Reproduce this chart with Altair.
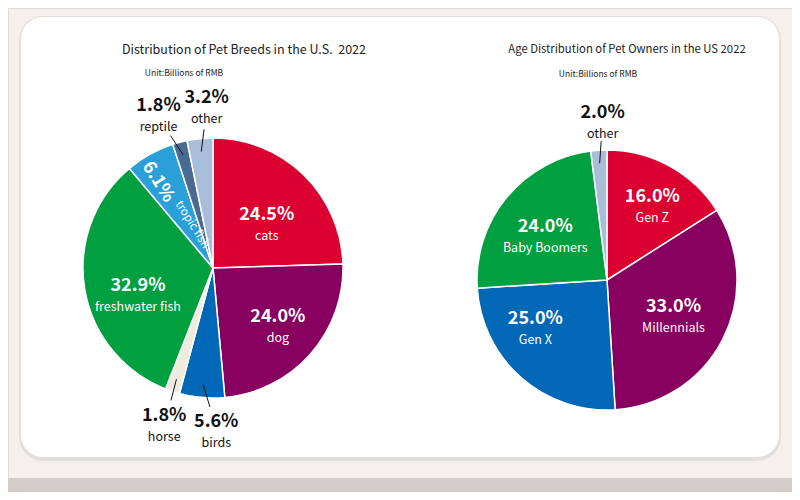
import math
import altair as alt
import pandas as pd

# ---------------- data ----------------
breed_labels = ["cats", "dog", "birds", "horse", "freshwater fish", "tropic fish", "reptile", "other"]
breed_values = [24.5, 24.0, 5.6, 1.8, 32.9, 6.1, 1.8, 3.2]
breed_colors = ["#dc0030", "#870060", "#0068b6", "#efebdf", "#00a040", "#2a9fd8", "#4a6b91", "#a8bed8"]

owner_labels = ["Gen Z", "Millennials", "Gen X", "Baby Boomers", "other"]
owner_values = [16.0, 33.0, 25.0, 24.0, 2.0]
owner_colors = ["#dc0030", "#870060", "#0068b6", "#00a040", "#a8bed8"]

left_title = "Distribution of Pet Breeds in the U.S. \u00a02022"
right_title = "Age Distribution of Pet Owners in the US 2022"
unit_text = "Unit:Billions of RMB"

# ---------------- layout ----------------
W, H = 784, 484
R = 130
LC = (205, 260)   # left pie centre (chart px)
RC = (599, 272)   # right pie centre
FONT = "Noto Sans CJK SC"

# label placement: mode, radius of label block, angle nudge (deg)
left_layout = {
    "cats": ("in", 69, 7), "dog": ("in", 88, 1), "birds": ("out", 164, -6),
    "horse": ("out", 165, -1), "freshwater fish": ("in", 80, -11),
    "tropic fish": ("rot", (102, -3.6), (48, 3)), "reptile": ("out", 161, -5),
    "other": ("out", 160, 3.5),
}
right_layout = {
    "Gen Z": ("in", 86, 3), "Millennials": ("in", 76, 2), "Gen X": ("in", 87, 14),
    "Baby Boomers": ("in", 75, -5), "other": ("out", 157, 2),
}


def polar(center, r, deg):
    a = math.radians(deg)
    return center[0] + r * math.sin(a), center[1] - r * math.cos(a)


def build(labels, values, center, layout):
    total = sum(values)
    pie = pd.DataFrame({"cat": labels, "value": values, "idx": range(len(labels))})
    texts, lines = [], []
    cum = 0.0
    for lab, v in zip(labels, values):
        mid = (cum + v / 2) / total * 360
        cum += v
        pct = f"{v:.1f}%"
        spec = layout[lab]
        mode = spec[0]
        if mode == "rot":
            (r1, n1), (r2, n2) = spec[1], spec[2]
            x1, y1 = polar(center, r1, mid + n1)
            x2, y2 = polar(center, r2, mid + n2)
            texts.append(dict(px=x1, py=y1, txt=pct, kind="pct_rot"))
            texts.append(dict(px=x2, py=y2, txt=lab, kind="name_rot"))
            continue
        r, nudge = spec[1], spec[2]
        bx, by = polar(center, r, mid + nudge)
        kind = "in" if mode == "in" else "out"
        texts.append(dict(px=bx, py=by - 10, txt=pct, kind="pct_" + kind))
        texts.append(dict(px=bx, py=by + 11, txt=lab, kind="name_" + kind))
        if mode == "out":
            sx, sy = polar(center, 117, mid)
            ex, ey = polar(center, 139, mid + 0.6 * nudge)
            lines.append(dict(x=sx, y=sy, x2=ex, y2=ey))
    return pie, pd.DataFrame(texts), pd.DataFrame(lines)


lpie, ltext, lline = build(breed_labels, breed_values, LC, left_layout)
rpie, rtext, rline = build(owner_labels, owner_values, RC, right_layout)
alltext = pd.concat([ltext, rtext], ignore_index=True)
alllines = pd.concat([lline, rline], ignore_index=True)

one = pd.DataFrame({"a": [0]})

# ---------------- background ----------------
bottom_band = alt.Chart(one).mark_rect(color="#d3cdc9").encode(
    x=alt.value(0), x2=alt.value(W), y=alt.value(470), y2=alt.value(H))
shadow = alt.Chart(one).mark_rect(color="#e4dfdb", cornerRadius=24).encode(
    x=alt.value(11), x2=alt.value(773), y=alt.value(8), y2=alt.value(453))
card = alt.Chart(one).mark_rect(color="#ffffff", cornerRadius=22).encode(
    x=alt.value(13), x2=alt.value(771), y=alt.value(9), y2=alt.value(449))


def pie_layer(df, labels, colors, center):
    return alt.Chart(df).mark_arc(radius=R, stroke="white", strokeWidth=1.5).encode(
        theta=alt.Theta("value:Q", stack=True),
        color=alt.Color("cat:N", scale=alt.Scale(domain=labels, range=colors), legend=None),
        order=alt.Order("idx:Q"),
        x=alt.value(center[0]),
        y=alt.value(center[1]),
    )


left_pie = pie_layer(lpie, breed_labels, breed_colors, LC)
right_pie = pie_layer(rpie, owner_labels, owner_colors, RC)

XY = dict(x=alt.X("px:Q", scale=None, axis=None), y=alt.Y("py:Q", scale=None, axis=None), text="txt:N")


def text_layer(kind, **mark):
    return alt.Chart(alltext).transform_filter(alt.datum.kind == kind).mark_text(
        font=FONT, baseline="middle", align="center", **mark).encode(**XY)


t_pct_in = text_layer("pct_in", fontSize=18, fontWeight="bold", color="white")
t_name_in = text_layer("name_in", fontSize=12.5, color="white")
t_pct_out = text_layer("pct_out", fontSize=18, fontWeight="bold", color="#111111")
t_name_out = text_layer("name_out", fontSize=12.5, color="#111111")
t_pct_rot = text_layer("pct_rot", fontSize=18, fontWeight="bold", color="white", angle=58)
t_name_rot = text_layer("name_rot", fontSize=11.5, color="white", angle=58)

leaders = alt.Chart(alllines).mark_rule(color="#111111", strokeWidth=1).encode(
    x=alt.X("x:Q", scale=None, axis=None), y=alt.Y("y:Q", scale=None, axis=None),
    x2="x2:Q", y2="y2:Q")


def title_text(txt, x, y, size, color="#222222"):
    return alt.Chart(one).mark_text(font=FONT, fontSize=size, color=color,
                                    align="center", baseline="middle").encode(
        x=alt.value(x), y=alt.value(y), text=alt.value(txt))


titles = (title_text(left_title, 236, 42, 12.5)
          + title_text(unit_text, 176, 65, 8.5)
          + title_text(right_title, 619, 42, 11.3)
          + title_text(unit_text, 590, 66, 8.5))

chart = alt.layer(
    bottom_band, shadow, card, left_pie, right_pie, leaders,
    t_pct_in, t_name_in, t_pct_out, t_name_out, t_pct_rot, t_name_rot, titles,
).resolve_scale(theta="independent", color="independent").properties(
    width=W, height=H, padding=0, autosize="none"
).configure_view(stroke=None).configure(background="#f5f0eb")

chart.save("out.html", embed_options={"renderer": "svg", "actions": False})
